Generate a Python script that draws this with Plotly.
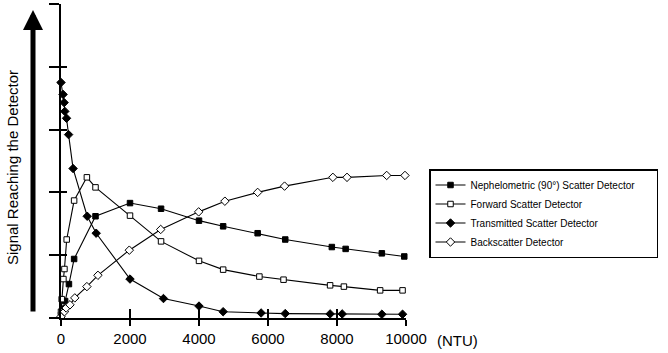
import plotly.graph_objects as go

# ---- data ----
neph_x = [0, 50, 120, 230, 380, 1000, 2000, 2900, 4000, 4700, 5700, 6500, 7850, 8250, 9300, 9950]
neph_y = [0.05, 0.15, 0.27, 0.54, 0.94, 1.62, 1.83, 1.74, 1.55, 1.46, 1.35, 1.25, 1.13, 1.10, 1.03, 0.98]

fwd_x = [0, 20, 70, 100, 165, 380, 750, 1000, 2000, 2900, 4000, 4700, 5750, 6450, 7800, 8200, 9250, 9900]
fwd_y = [0.1, 0.3, 0.62, 0.78, 1.25, 1.87, 2.24, 2.08, 1.63, 1.22, 0.91, 0.77, 0.66, 0.61, 0.52, 0.50, 0.44, 0.44]

trans_x = [0, 60, 90, 110, 160, 220, 350, 760, 1020, 2000, 2970, 4000, 4700, 5800, 6500, 7800, 8150, 9300, 9900]
trans_y = [3.75, 3.56, 3.43, 3.29, 3.18, 2.92, 2.38, 1.62, 1.35, 0.62, 0.31, 0.19, 0.10, 0.08, 0.07, 0.065, 0.065, 0.06, 0.06]

back_x = [0, 100, 150, 260, 400, 750, 1070, 1980, 2890, 3990, 4750, 5700, 6480, 7880, 8290, 9440, 9970]
back_y = [0.02, 0.10, 0.16, 0.21, 0.32, 0.50, 0.68, 1.08, 1.41, 1.69, 1.86, 2.00, 2.10, 2.24, 2.24, 2.27, 2.27]

series_names = [
    "Nephelometric (90°) Scatter Detector",
    "Forward Scatter Detector",
    "Transmitted Scatter Detector",
    "Backscatter Detector",
]

x_ticks = [0, 2000, 4000, 6000, 8000, 10000]
x_tick_text = ["0", "2000", "4000", "6000", "8000", "10000"]
y_ticks = [0, 1, 2, 3, 4, 5]

FONT = "Liberation Sans, Arial, Helvetica, sans-serif"

fig = go.Figure()

styles = [
    dict(symbol="square", size=5.5, color="black", line=dict(color="black", width=1)),
    dict(symbol="square", size=5.5, color="white", line=dict(color="black", width=1)),
    dict(symbol="diamond", size=6.5, color="black", line=dict(color="black", width=1)),
    dict(symbol="diamond", size=6.5, color="white", line=dict(color="black", width=1)),
]
data = [(neph_x, neph_y), (fwd_x, fwd_y), (trans_x, trans_y), (back_x, back_y)]

for i, ((xs, ys), name) in enumerate(zip(data, series_names)):
    label = name + ("\u00a0" * 6 if i == 0 else "")
    fig.add_trace(go.Scatter(
        x=xs, y=ys, mode="lines+markers", name=label,
        line=dict(color="black", width=1.1),
        marker=styles[i], cliponaxis=False,
    ))

# invisible trace for the overlay axes (inner halves of the crossing ticks)
fig.add_trace(go.Scatter(x=[], y=[], xaxis="x2", yaxis="y2", showlegend=False, hoverinfo="skip"))

fig.update_layout(
    width=668, height=353,
    margin=dict(l=61, r=262, t=4, b=35),
    paper_bgcolor="white", plot_bgcolor="white",
    font=dict(family=FONT, color="black", size=15),
    xaxis=dict(range=[0, 10000], tickvals=x_ticks, ticktext=x_tick_text,
               ticks="outside", ticklen=6, tickwidth=2, tickcolor="black",
               showline=True, linecolor="black", linewidth=2,
               showgrid=False, zeroline=False,
               tickfont=dict(size=15, family=FONT, color="black")),
    yaxis=dict(range=[0, 5], tickvals=y_ticks, showticklabels=False,
               ticks="outside", ticklen=10, tickwidth=2, tickcolor="black",
               showline=True, linecolor="black", linewidth=2,
               showgrid=False, zeroline=False),
    xaxis2=dict(range=[0, 10000], tickvals=x_ticks, overlaying="x", anchor="y2",
                ticks="inside", ticklen=9, tickwidth=2, tickcolor="black",
                showticklabels=False, showline=False, showgrid=False, zeroline=False),
    yaxis2=dict(range=[0, 5], tickvals=y_ticks, overlaying="y", anchor="x2",
                ticks="inside", ticklen=6, tickwidth=2, tickcolor="black",
                showticklabels=False, showline=False, showgrid=False, zeroline=False),
    legend=dict(x=(429 - 61) / 345, y=(318 - 169) / 314, xanchor="left", yanchor="top",
                bgcolor="white", bordercolor="black", borderwidth=1.5,
                font=dict(size=10, family=FONT, color="black")),
    showlegend=True,
)

# left upward arrow
fig.add_annotation(
    xref="paper", yref="paper", x=(33 - 61) / 345, y=(318 - 10) / 314,
    ax=0, ay=303, axref="pixel", ayref="pixel",
    text="", showarrow=True, arrowhead=2, arrowsize=0.8, arrowwidth=5,
    arrowcolor="black", standoff=0, startstandoff=0,
)
# y axis title
fig.add_annotation(
    xref="paper", yref="paper", x=(12 - 61) / 345, y=(318 - 168) / 314,
    text="Signal Reaching the Detector", textangle=-90, showarrow=False,
    font=dict(size=15, family=FONT, color="black"),
    xanchor="center", yanchor="middle",
)
# unit label
fig.add_annotation(
    xref="paper", yref="paper", x=(435 - 61) / 345, y=(318 - 340.5) / 314,
    text="(NTU)", showarrow=False, xanchor="left", yanchor="middle",
    font=dict(size=15, family=FONT, color="black"),
)

fig.write_html("out.html")
